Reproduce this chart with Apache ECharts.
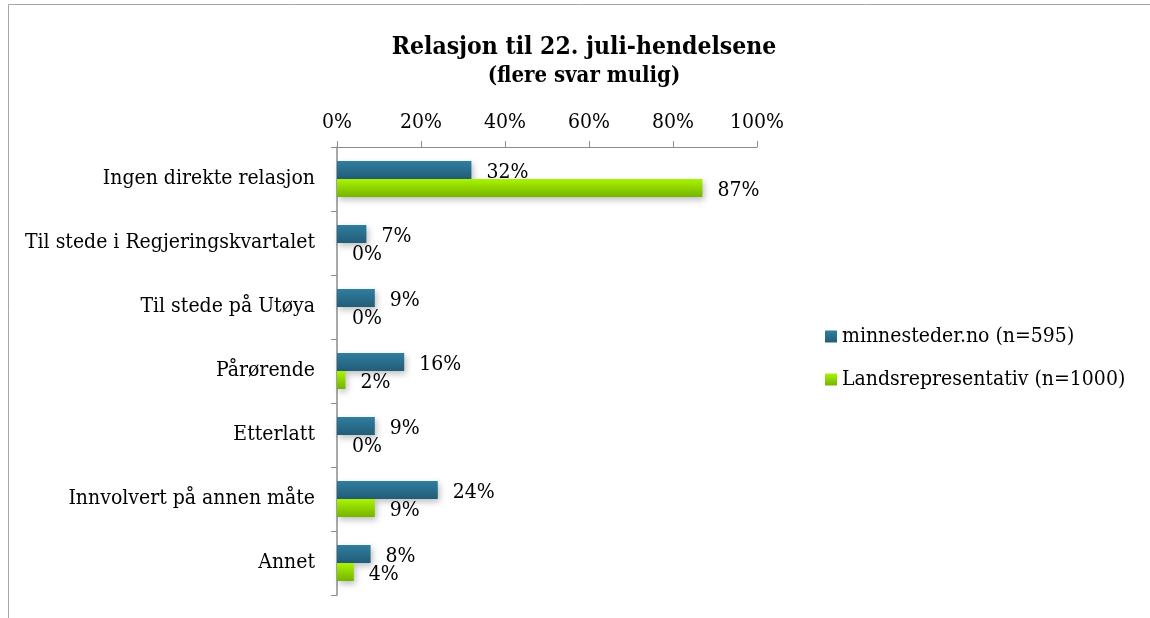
<!DOCTYPE html>
<html>
<head>
<meta charset="utf-8">
<script src="https://cdn.jsdelivr.net/npm/echarts@6/dist/echarts.min.js"></script>
<style>
  html, body { margin: 0; padding: 0; background: #fff; }
  #container { width: 1150px; height: 618px; }
</style>
</head>
<body>
<div id="container"></div>
<script>
var categories = ['Ingen direkte relasjon', 'Til stede i Regjeringskvartalet', 'Til stede på Utøya',
  'Pårørende', 'Etterlatt', 'Innvolvert på annen måte', 'Annet'];
var minnesteder = [32, 7, 9, 16, 9, 24, 8];
var landsrep = [87, 0, 0, 2, 0, 9, 4];
var seriesNames = ['minnesteder.no (n=595)', 'Landsrepresentativ (n=1000)'];

var FONT = '"DejaVu Serif Condensed", "DejaVu Serif", serif';

var dom = document.getElementById('container');
var myChart = echarts.init(dom);

function grad(top, bottom) {
  return new echarts.graphic.LinearGradient(0, 0, 0, 1, [
    { offset: 0, color: top },
    { offset: 1, color: bottom }
  ]);
}

var barLabel = {
  show: true,
  position: 'right',
  distance: 15,
  offset: [0, 3],
  formatter: '{c}%',
  fontFamily: FONT,
  fontSize: 21,
  color: '#000'
};

var option = {
  backgroundColor: '#fff',
  animation: false,
  title: {
    text: 'Relasjon til 22. juli-hendelsene',
    subtext: '(flere svar mulig)',
    left: 579,
    textAlign: 'center',
    top: 30,
    itemGap: 5,
    textStyle: { fontFamily: FONT, fontSize: 24.5, fontWeight: 'bold', color: '#000' },
    subtextStyle: { fontFamily: FONT, fontSize: 22, fontWeight: 'bold', color: '#000' }
  },
  legend: {
    orient: 'vertical',
    left: 820,
    top: 321,
    itemWidth: 12,
    itemHeight: 12,
    itemGap: 22,
    icon: 'rect',
    textStyle: { fontFamily: FONT, fontSize: 21, color: '#000' },
    data: seriesNames
  },
  grid: { left: 337, top: 147, right: 393, bottom: 23, containLabel: false },
  xAxis: {
    type: 'value',
    position: 'top',
    min: 0,
    max: 100,
    interval: 20,
    splitLine: { show: false },
    axisLine: { show: true, lineStyle: { color: '#8c8c8c' } },
    axisTick: { show: true, length: 6, lineStyle: { color: '#8c8c8c' } },
    axisLabel: { formatter: '{value}%', fontFamily: FONT, fontSize: 21, color: '#000', margin: 14 }
  },
  yAxis: {
    type: 'category',
    inverse: true,
    data: categories,
    axisLine: { show: true, lineStyle: { color: '#8c8c8c', width: 1.5 } },
    axisTick: { show: true, length: 6, lineStyle: { color: '#8c8c8c' } },
    axisLabel: { fontFamily: FONT, fontSize: 21, color: '#000', margin: 22 }
  },
  series: [
    {
      name: seriesNames[0],
      type: 'bar',
      data: minnesteder,
      barWidth: 18,
      barGap: '0%',
      itemStyle: {
        color: grad('#2f7f9f', '#235c78'),
        shadowColor: 'rgba(0,0,0,0.25)',
        shadowBlur: 6,
        shadowOffsetX: 2,
        shadowOffsetY: 3
      },
      label: barLabel
    },
    {
      name: seriesNames[1],
      type: 'bar',
      data: landsrep,
      barWidth: 18,
      barGap: '0%',
      itemStyle: {
        color: grad('#a8f500', '#76b300'),
        shadowColor: 'rgba(0,0,0,0.25)',
        shadowBlur: 6,
        shadowOffsetX: 2,
        shadowOffsetY: 3
      },
      label: barLabel
    }
  ],
  graphic: [
    {
      type: 'rect',
      shape: { x: 8.5, y: 4.5, width: 1200, height: 700 },
      style: { fill: 'none', stroke: '#a6a6a6', lineWidth: 1 },
      silent: true
    }
  ]
};

myChart.setOption(option);
</script>
</body>
</html>
